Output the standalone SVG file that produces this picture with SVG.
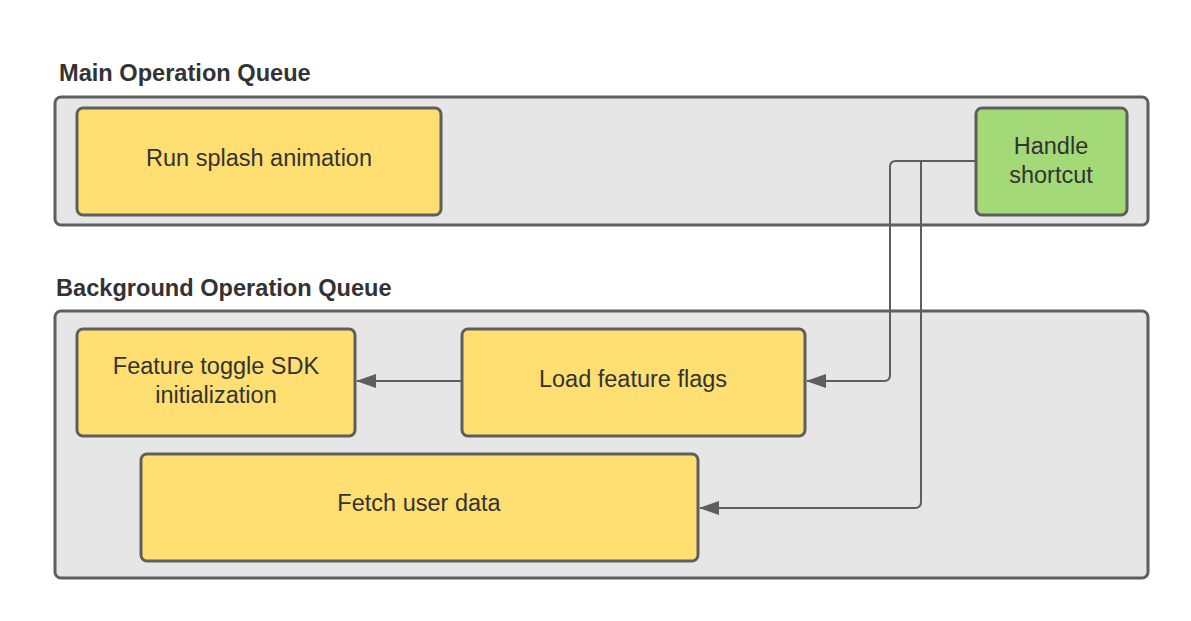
<svg xmlns="http://www.w3.org/2000/svg" width="1191" height="621" viewBox="0 0 1191 621">
<defs>
<marker id="arr" viewBox="0 0 20 14" refX="19" refY="7" markerWidth="20" markerHeight="14" markerUnits="userSpaceOnUse" orient="auto">
<path d="M0,0 L20,7 L0,14 Z" fill="#5e5e5e"/>
</marker>
<style>
.container{fill:#e6e6e6;stroke:#5e5e5e;stroke-width:3}
.node{fill:#ffdf71;stroke:#5e5e5e;stroke-width:3}
.green{fill:#a3d977;stroke:#5e5e5e;stroke-width:3}
.title{font-family:"Liberation Sans",Arial,sans-serif;font-weight:bold;font-size:23.6px;fill:#333}
.label{font-family:"Liberation Sans",Arial,sans-serif;font-size:23.5px;fill:#333;text-anchor:middle}
.conn{fill:none;stroke:#5e5e5e;stroke-width:2}
</style>
</defs>
<rect width="1191" height="621" fill="#ffffff"/>
<g id="main-queue">
<text class="title" x="59" y="81">Main Operation Queue</text>
<rect class="container" x="55" y="97" width="1093" height="128" rx="6"/>
</g>
<g id="background-queue">
<text class="title" x="56" y="296">Background Operation Queue</text>
<rect class="container" x="55" y="311" width="1093" height="267" rx="6"/>
</g>
<g id="run-splash">
<rect class="node" x="77" y="108" width="364" height="107" rx="6"/>
<text class="label" x="259" y="166">Run splash animation</text>
</g>
<g id="handle-shortcut">
<rect class="green" x="976" y="108" width="151" height="107" rx="6"/>
<text class="label" x="1051" y="154">Handle</text>
<text class="label" x="1051" y="183">shortcut</text>
</g>
<g id="feature-toggle">
<rect class="node" x="77" y="329" width="278" height="107" rx="6"/>
<text class="label" x="216" y="374">Feature toggle SDK</text>
<text class="label" x="216" y="403">initialization</text>
</g>
<g id="load-flags">
<rect class="node" x="462" y="329" width="343" height="107" rx="6"/>
<text class="label" x="633" y="387">Load feature flags</text>
</g>
<g id="fetch-user">
<rect class="node" x="141" y="454" width="557" height="107" rx="6"/>
<text class="label" x="419" y="511">Fetch user data</text>
</g>
<g id="connectors">
<path class="conn" d="M462,381 L357,381" marker-end="url(#arr)"/>
<path class="conn" d="M975,161 L896,161 Q890,161 890,167 L890,375 Q890,381 884,381 L807,381" marker-end="url(#arr)"/>
<path class="conn" d="M975,161 L921,161 L921,502 Q921,508 915,508 L700,508" marker-end="url(#arr)"/>
</g>
</svg>
